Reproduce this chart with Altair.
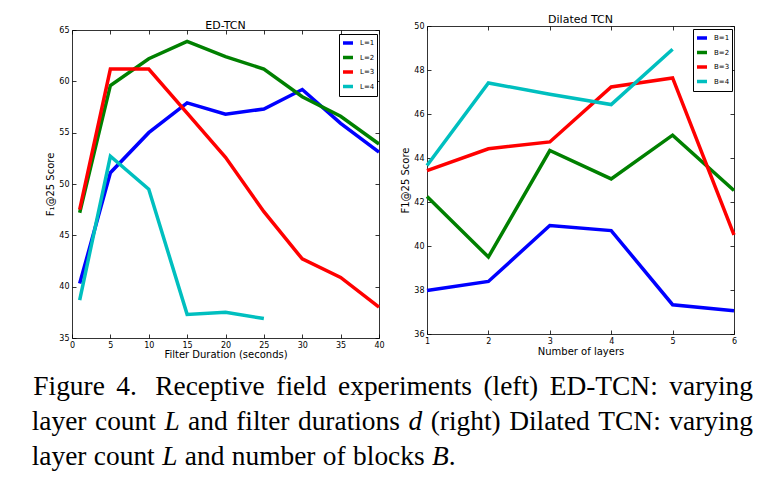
import altair as alt
import pandas as pd

# ---------------- data ----------------
ed_x = [1, 5, 10, 15, 20, 25, 30, 35, 40]
ed_L1 = [40.3, 51.1, 55.0, 57.9, 56.8, 57.3, 59.2, 55.9, 53.1]
ed_L2 = [47.2, 59.6, 62.2, 63.9, 62.4, 61.2, 58.5, 56.6, 53.9]
ed_L3 = [47.5, 61.2, 61.2, 56.9, 52.6, 47.3, 42.7, 40.9, 38.0]
ed_L4 = [38.7, 52.7, 49.5, 37.3, 37.5, 36.9]
ed_names = ["L=1", "L=2", "L=3", "L=4"]

dil_x = [1, 2, 3, 4, 5, 6]
dil_B1 = [37.98, 38.39, 40.93, 40.70, 37.33, 37.06]
dil_B2 = [42.25, 39.50, 44.34, 43.05, 45.04, 42.52]
dil_B3 = [43.43, 44.42, 44.73, 47.23, 47.64, 40.51]
dil_B4 = [43.66, 47.41, 46.90, 46.43, 48.94]
dil_names = ["B=1", "B=2", "B=3", "B=4"]

ed_xticks = [0, 5, 10, 15, 20, 25, 30, 35, 40]
ed_yticks = [35, 40, 45, 50, 55, 60, 65]
dil_xticks = [1, 2, 3, 4, 5, 6]
dil_yticks = [36, 38, 40, 42, 44, 46, 48, 50]

series_colors = ["#0000ff", "#008000", "#ff0000", "#00bfbf"]

# caption: three lines of words; italic words (math symbols) flagged
cap_lines = [
    ["Figure", "4.", "Receptive", "field", "experiments", "(left)", "ED-TCN:", "varying"],
    ["layer", "count", "L", "and", "filter", "durations", "d", "(right)", "Dilated", "TCN:", "varying"],
    ["layer", "count", "L", "and", "number", "of", "blocks", "B."],
]
cap_italic_words = {"L", "d", "B"}

FONT = "DejaVu Sans"
SERIF = "Liberation Serif"
CAP_SIZE = 27.4
LEFT0 = 72
TOP0 = 26

# Times-Roman / Times-Italic advance widths (1/1000 em) for caption layout
TIMES = {" ": 250, "(": 333, ")": 333, ".": 250, ":": 278, "-": 333, "4": 500,
         "B": 667, "C": 667, "D": 722, "E": 611, "F": 556, "L": 611, "N": 722, "R": 667, "T": 611,
         "a": 444, "b": 500, "c": 444, "d": 500, "e": 444, "f": 333, "g": 500, "h": 500,
         "i": 278, "k": 500, "l": 278, "m": 778, "n": 500, "o": 500, "p": 500, "r": 333,
         "s": 389, "t": 278, "u": 500, "v": 500, "x": 500, "y": 500}
TIMES_IT = {"L": 556, "d": 500, "B": 611}


def word_width(w, italic):
    table = TIMES_IT if italic else TIMES
    return sum(table.get(ch, TIMES.get(ch, 500)) for ch in w) * CAP_SIZE / 1000.0


def split_pieces(word):
    core = word.rstrip(".")
    if core in cap_italic_words:
        pieces = [(core, 1)]
        if len(word) > len(core):
            pieces.append((word[len(core):], 0))
        return pieces
    return [(word, 0)]


cap_left = [33.3, 31.7, 31.7]
cap_right = [753.0, 753.0, None]
line_baselines = [395, 430, 465]

words, px_abs, lines_idx, italics = [], [], [], []
for li, line in enumerate(cap_lines):
    widths = [sum(word_width(p, it) for p, it in split_pieces(w)) for w in line]
    weights = [1.6 if line[i].endswith(".") else 1.0 for i in range(len(line) - 1)]
    if cap_right[li] is None:
        gap_unit = 0.27 * CAP_SIZE
    else:
        gap_unit = (cap_right[li] - cap_left[li] - sum(widths)) / sum(weights)
    x = cap_left[li]
    for i, w in enumerate(line):
        xx = x
        for p, it in split_pieces(w):
            words.append(p)
            px_abs.append(xx)
            lines_idx.append(li)
            italics.append(it)
            xx += word_width(p, it)
        if i < len(line) - 1:
            x += widths[i] + gap_unit * weights[i]


def long_df(xs, names, series):
    rows = []
    for name, ys in zip(names, series):
        for x, y in zip(xs, ys):
            rows.append({"x": x, "y": y, "series": name})
    return pd.DataFrame(rows)


def panel(df, names, W, H, top, xdom, xvals, ydom, yvals, title, title_off,
          xtitle, ytitle, xtitle_y, ytitle_y, legx, legy):
    xscale = alt.Scale(domain=xdom, nice=False, zero=False)
    yscale = alt.Scale(domain=ydom, range=[H, top], nice=False, zero=False)
    base = alt.Chart(df)
    common = dict(labelFont=FONT, labelFontSize=8, labelColor="black", labelFlush=False,
                  labelOverlap=False, labelBound=False, grid=False,
                  domainColor="black", domainWidth=0.8, tickColor="black", tickWidth=0.8)
    lines = base.mark_line(strokeWidth=3.5).encode(
        x=alt.X("x:Q", scale=xscale,
                axis=alt.Axis(orient="bottom", values=xvals, ticks=False, tickSize=0,
                              labelPadding=3, domain=True, title=xtitle,
                              titleFont=FONT, titleFontSize=10, titleFontWeight="normal",
                              titleColor="black", titleY=xtitle_y, titleBaseline="middle",
                              **common)),
        y=alt.Y("y:Q", scale=yscale,
                axis=alt.Axis(orient="left", values=yvals, ticks=False, tickSize=0,
                              labelPadding=3, domain=True, title=ytitle,
                              titleFont=FONT, titleFontSize=10, titleFontWeight="normal",
                              titleColor="black", titleX=-22, titleY=ytitle_y,
                              titleAngle=270, titleBaseline="middle", **common)),
        color=alt.Color("series:N",
                        scale=alt.Scale(domain=names, range=series_colors),
                        legend=alt.Legend(title=None, orient="none", legendX=legx, legendY=legy,
                                          symbolType="stroke", symbolStrokeWidth=3.5,
                                          symbolSize=100, labelFont=FONT, labelFontSize=7,
                                          labelColor="black", padding=2, rowPadding=0.5,
                                          strokeColor="black", fillColor="white",
                                          labelOffset=5, cornerRadius=0)),
    )
    inner1 = base.mark_point(opacity=0).encode(
        x=alt.X("x:Q", scale=xscale,
                axis=alt.Axis(orient="top", offset=-H, values=xvals, labels=False,
                              domain=False, ticks=True, tickSize=4, title=None, **common)),
        y=alt.Y("y:Q", scale=yscale,
                axis=alt.Axis(orient="right", offset=-W, values=yvals, labels=False,
                              domain=False, ticks=True, tickSize=4, title=None, **common)),
    )
    inner2 = base.mark_point(opacity=0).encode(
        x=alt.X("x:Q", scale=xscale,
                axis=alt.Axis(orient="bottom", offset=top - H, values=xvals, labels=False,
                              domain=True, ticks=True, tickSize=4, title=None, **common)),
        y=alt.Y("y:Q", scale=yscale,
                axis=alt.Axis(orient="left", offset=-W, values=yvals, labels=False,
                              domain=True, ticks=True, tickSize=4, title=None, **common)),
    )
    return alt.layer(lines, inner1, inner2).resolve_axis(
        x="independent", y="independent"
    ).properties(
        width=W, height=H,
        title=alt.TitleParams(title, font=FONT, fontSize=11, fontWeight="normal",
                              color="black", offset=title_off, baseline="middle",
                              anchor="middle", frame="group"),
    )


ed_df = long_df(ed_x, ed_names, [ed_L1, ed_L2, ed_L3, ed_L4])
dil_df = long_df(dil_x, dil_names, [dil_B1, dil_B2, dil_B3, dil_B4])

left = panel(ed_df, ed_names, 307, 312, 4, [0, 40], ed_xticks, [35, 65], ed_yticks,
             "ED-TCN", -10.5, "Filter Duration (seconds)", "F\u2081@25 Score",
             16, 158, 267, 8)
right = panel(dil_df, dil_names, 307, 308, 0, [1, 6], dil_xticks, [36, 50], dil_yticks,
              "Dilated TCN", -9, "Number of layers", "F1@25 Score",
              17, 154, 266, 3)

cap_y0 = TOP0 + 312
cap_df = pd.DataFrame({
    "word": words,
    "px": [v - LEFT0 for v in px_abs],
    "py": [line_baselines[i] - cap_y0 for i in lines_idx],
    "it": italics,
})
cap_base = alt.Chart(cap_df)
cap_enc = dict(x=alt.X("px:Q", scale=None, axis=None),
               y=alt.Y("py:Q", scale=None, axis=None),
               text="word:N")
roman = cap_base.transform_filter("datum.it == 0").mark_text(
    align="left", baseline="alphabetic", font=SERIF, fontSize=CAP_SIZE,
    color="black").encode(**cap_enc)
italic = cap_base.transform_filter("datum.it == 1").mark_text(
    align="left", baseline="alphabetic", font=SERIF, fontSize=CAP_SIZE,
    fontStyle="italic", color="black").encode(**cap_enc)
anchor = alt.Chart(pd.DataFrame({"a": [0]})).mark_rule(color="white", strokeWidth=1).encode(
    x=alt.value(-63.5), x2=alt.value(-62.5), y=alt.value(8.5 - cap_y0))
caption = alt.layer(anchor, roman, italic).properties(width=307, height=10)

chart = alt.concat(left, right, caption, columns=2, spacing={"row": 0, "column": 48},
                   bounds="flush").resolve_scale(color="independent").properties(
    padding=0, background="white"
).configure_view(strokeWidth=0)

chart.save("out.html", embed_options={"renderer": "svg", "actions": False})
